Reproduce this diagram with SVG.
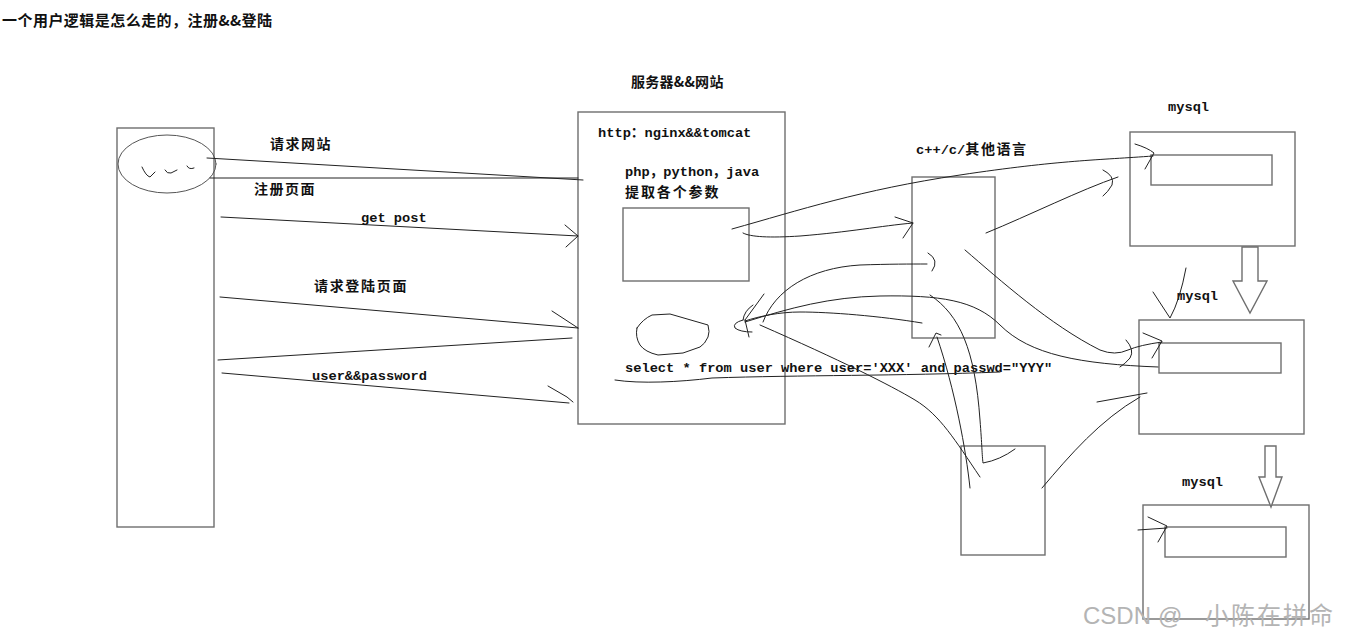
<svg xmlns="http://www.w3.org/2000/svg" width="1360" height="639" viewBox="0 0 1360 639">
<style>
.box{fill:none;stroke:#6e6e6e;stroke-width:1.4}
.ink{fill:none;stroke:#222;stroke-width:1;stroke-linecap:round;stroke-linejoin:round}
.blk{fill:#fff;stroke:#6e6e6e;stroke-width:1.4}
.cjk{font-family:"Noto Sans CJK SC","Noto Sans CJK JP",sans-serif;font-size:14px;font-weight:bold;letter-spacing:1.6px;fill:#111}
.mono{font-family:"Liberation Mono","Noto Sans CJK SC",monospace;font-size:13.7px;font-weight:bold;fill:#111}
.wm{font-family:"Liberation Sans","Noto Sans CJK SC",sans-serif;font-size:24px;fill:#b4b4b4}
</style>
<rect x="0" y="0" width="1360" height="639" fill="#fff"/>
<text x="2" y="26" class="cjk" style="font-size:15px;letter-spacing:0" textLength="270" lengthAdjust="spacing">一个用户逻辑是怎么走的，注册&amp;&amp;登陆</text>

<g id="client">
<rect x="117" y="128" width="97" height="399" class="box"/>
<ellipse cx="167" cy="164" rx="49" ry="29" class="ink" style="stroke:#555"/>
<path d="M142,167 Q146,176 150,177 L155,172 M165,170 Q167,174 171,173 L177,170 M187,166 Q189,170 194,168" class="ink"/>
</g>

<g id="server">
<text x="631" y="87" class="cjk" textLength="94" lengthAdjust="spacing">服务器&amp;&amp;网站</text>
<rect x="578" y="112" width="207" height="312" class="box"/>
<text x="598" y="137" class="mono">http：nginx&amp;&amp;tomcat</text>
<text x="625" y="176" class="mono">php，python，java</text>
<text x="625" y="197" class="cjk" textLength="95" lengthAdjust="spacing">提取各个参数</text>
<rect x="623" y="208" width="126" height="73" class="box"/>
<path d="M637,328 Q643,319 652,315 L670,314 L708,325 Q710,332 708,337 Q705,344 700,347 L683,353 L658,355 Q645,352 640,345 Q635,337 637,328 Z" class="ink"/>
<text x="625" y="372" class="mono">select * from user where user='XXX' and passwd="YYY"</text>
</g>

<g id="lang">
<text x="916" y="154"><tspan class="mono">c++/c/</tspan><tspan class="cjk">其他语言</tspan></text>
<rect x="912" y="177" width="83" height="161" class="box"/>
</g>

<g id="bottombox">
<rect x="961" y="446" width="84" height="109" class="box"/>
</g>

<g id="mysql1">
<text x="1168" y="111" class="mono">mysql</text>
<rect x="1130" y="132" width="165" height="114" class="box"/>
<rect x="1151" y="155" width="121" height="30" class="box"/>
</g>
<g id="mysql2">
<text x="1177" y="300" class="mono">mysql</text>
<rect x="1139" y="320" width="165" height="114" class="box"/>
<rect x="1159" y="343" width="122" height="30" class="box"/>
</g>
<g id="mysql3">
<text x="1182" y="486" class="mono">mysql</text>
<rect x="1143" y="505" width="166" height="114" class="box"/>
<rect x="1165" y="527" width="121" height="30" class="box"/>
</g>

<g id="connectors">
<path d="M207,158 L583,180" class="ink"/>
<path d="M210,178 L578,178" class="ink"/>
<text x="270" y="149" class="cjk" textLength="62" lengthAdjust="spacing">请求网站</text>
<text x="254" y="194" class="cjk" textLength="62" lengthAdjust="spacing">注册页面</text>
<path d="M221,217 L578,236 M565,225 L578,236 L566,247" class="ink"/>
<text x="361" y="222" class="mono">get post</text>
<text x="314" y="291" class="cjk" textLength="94" lengthAdjust="spacing">请求登陆页面</text>
<path d="M220,297 L578,328 M552,311 L578,328" class="ink"/>
<path d="M218,360 L572,338" class="ink"/>
<path d="M222,373 L569,403 M548,386 L567,397 L573,402" class="ink"/>
<text x="312" y="380" class="mono">user&amp;&amp;password</text>

<path d="M732,229 C800,210 860,190 960,175 S1100,160 1153,156 M1135,144 Q1148,148 1154,153 L1145,169" class="ink"/>
<path d="M743,233 C750,237 770,238 800,236 C850,232 880,226 913,223 M895,217 L913,223 L903,238" class="ink"/>
<path d="M986,233 C1030,215 1080,190 1118,177 M1103,170 Q1115,176 1112,185 Q1108,192 1103,196" class="ink"/>
<path d="M965,250 C1000,280 1050,325 1100,350 Q1115,356 1128,350 Q1140,345 1162,342 M1143,333 L1162,341 L1152,358 M1126,340 Q1135,350 1130,358 Q1125,364 1120,367" class="ink"/>
<path d="M763,322 C775,290 810,268 860,265 C890,264 910,264 927,264 M928,253 Q940,260 932,271" class="ink"/>
<path d="M922,323 C880,316 830,312 800,312 C780,312 760,316 745,321" class="ink"/>
<path d="M745,322 C790,308 830,297 880,296 C940,295 975,300 1000,325 C1030,355 1080,364 1158,367" class="ink"/>
<path d="M760,325 C840,360 890,385 915,400 S955,440 980,477" class="ink"/>
<path d="M970,488 C966,450 955,390 937,337 M929,347 L936,333 L941,335" class="ink"/>
<path d="M930,295 C960,315 975,350 980,420 C982,445 982,455 983,463 Q1000,460 1015,449" class="ink"/>
<path d="M1042,488 C1070,455 1100,420 1140,397 M1097,402 L1147,393" class="ink"/>
<path d="M764,294 L745,320 M753,305 Q744,311 743,320 M743,320 Q732,323 735,328 Q740,332 752,332 M745,320 L749,337" class="ink"/>
<path d="M615,380 C640,384 680,382 712,378 C800,375 900,376 1000,372" class="ink"/>
<path d="M1153,292 L1170,318 Q1180,300 1186,268" class="ink"/>
<path d="M1138,530 L1167,528 M1148,517 L1167,526 L1158,542" class="ink"/>
<path d="M1242,247 L1258,247 L1258,281 L1267,281 L1250,313 L1233,281 L1242,281 Z" class="blk"/>
<path d="M1265,446 L1276,446 L1276,477 L1282,477 L1271,507 L1259,477 L1265,477 Z" class="blk"/>
</g>

<text x="1083" y="624" class="wm">CSDN<tspan x="1158">@</tspan><tspan x="1205" style="letter-spacing:2px">小陈在拼命</tspan></text>
</svg>
